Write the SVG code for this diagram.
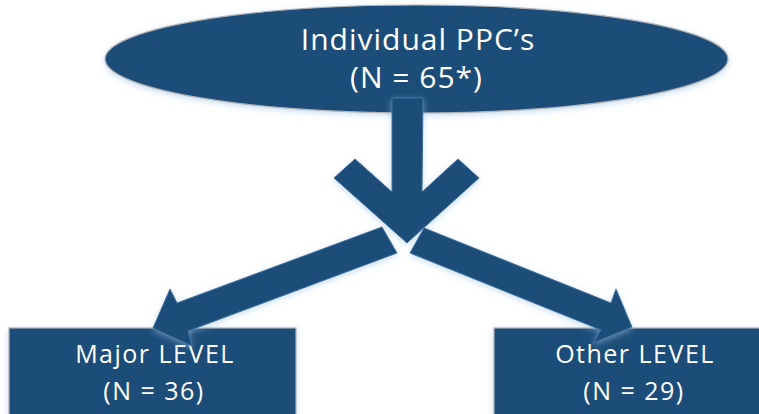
<svg xmlns="http://www.w3.org/2000/svg" width="759" height="414" viewBox="0 0 759 414">
  <defs>
    <filter id="glow" x="-10%" y="-20%" width="120%" height="140%">
      <feGaussianBlur in="SourceAlpha" stdDeviation="3" result="b"/>
      <feOffset in="b" dx="0" dy="2" result="o"/>
      <feFlood flood-color="#9dc3e6" flood-opacity="0.55"/>
      <feComposite in2="o" operator="in" result="s"/>
      <feMerge><feMergeNode in="s"/><feMergeNode in="SourceGraphic"/></feMerge>
    </filter>
  </defs>
  <style>
    .shape { fill: #1F4E79; stroke: #b4b4b4; stroke-width: 1.2; filter: url(#glow); }
    .conn { fill: #1F4E79; stroke: #3e6f9f; stroke-width: 1; stroke-linejoin: miter; filter: url(#glow); }
    .big { font-family: "Open Sans", "Liberation Sans", sans-serif; font-size: 30px; fill: #ffffff; text-anchor: middle; letter-spacing: 1px; }
    .small { font-family: "Open Sans", "Liberation Sans", sans-serif; font-size: 25px; fill: #ffffff; text-anchor: middle; letter-spacing: 1.5px; }
  </style>
  <rect width="759" height="414" fill="#ffffff"/>
  <g id="node-individual">
    <ellipse class="shape" cx="416.5" cy="59" rx="311.5" ry="54"/>
    <text class="big" x="418" y="50">Individual PPC’s</text>
    <text class="big" x="416.5" y="88">(N = 65*)</text>
  </g>
  <g id="node-major">
    <rect class="shape" x="9" y="328" width="287" height="100"/>
    <text class="small" x="155" y="363">Major LEVEL</text>
    <text class="small" x="154" y="400">(N = 36)</text>
  </g>
  <g id="node-other">
    <rect class="shape" x="494" y="328" width="287" height="100"/>
    <text class="small" x="635" y="363">Other LEVEL</text>
    <text class="small" x="634" y="400">(N = 29)</text>
  </g>
  <g id="connectors">
    <polygon class="conn" points="392,98 423,98 422,192 458,159 479,178 407,243 334,178 355,159 392,192"/>
    <polygon class="conn" points="382,227 177,303 170,289 153,328 192,346 188,331 397,253"/>
    <polygon class="conn" points="424,228 611,303 616,289 632,327 593,343 601,330 410,253"/>
  </g>
</svg>
